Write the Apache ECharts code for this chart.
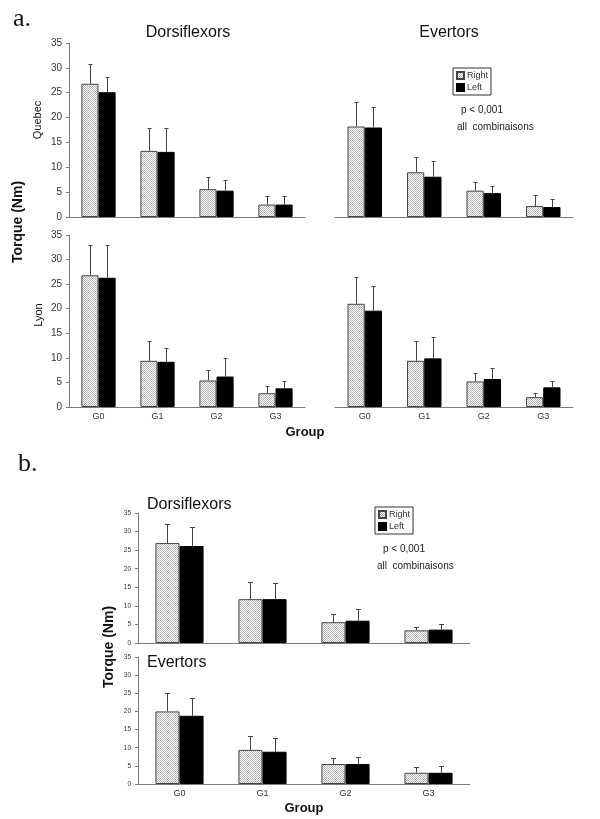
<!DOCTYPE html>
<html>
<head>
<meta charset="utf-8">
<script src="https://cdn.jsdelivr.net/npm/echarts@6/dist/echarts.min.js"></script>
<style>html,body{margin:0;padding:0;background:#fff}#c{width:600px;height:819px}</style>
</head>
<body>
<div id="c"></div>
<script>
const categories = ['G0', 'G1', 'G2', 'G3'];
const seriesNames = ['Right', 'Left'];

const quebecDorsiRight = [26.8, 13.3, 5.6, 2.5];
const quebecDorsiRightSD = [3.9, 4.7, 2.5, 1.7];
const quebecDorsiLeft = [25.1, 13.1, 5.3, 2.5];
const quebecDorsiLeftSD = [3.0, 4.9, 2.1, 1.7];

const quebecEverRight = [18.2, 9.0, 5.3, 2.2];
const quebecEverRightSD = [5.0, 3.1, 1.8, 2.2];
const quebecEverLeft = [18.0, 8.1, 4.8, 2.0];
const quebecEverLeftSD = [4.1, 3.2, 1.5, 1.6];

const lyonDorsiRight = [26.8, 9.4, 5.4, 2.8];
const lyonDorsiRightSD = [6.1, 4.0, 2.1, 1.5];
const lyonDorsiLeft = [26.3, 9.2, 6.2, 3.8];
const lyonDorsiLeftSD = [6.6, 2.8, 3.8, 1.5];

const lyonEverRight = [21.0, 9.4, 5.2, 2.0];
const lyonEverRightSD = [5.5, 4.0, 1.7, 0.9];
const lyonEverLeft = [19.6, 9.9, 5.7, 4.0];
const lyonEverLeftSD = [5.0, 4.3, 2.3, 1.3];

const pooledDorsiRight = [26.9, 11.8, 5.6, 3.4];
const pooledDorsiRightSD = [5.1, 4.6, 2.1, 0.9];
const pooledDorsiLeft = [26.1, 11.8, 6.0, 3.6];
const pooledDorsiLeftSD = [5.0, 4.3, 3.1, 1.5];

const pooledEverRight = [20.0, 9.4, 5.5, 3.1];
const pooledEverRightSD = [5.2, 3.7, 1.6, 1.6];
const pooledEverLeft = [18.8, 8.9, 5.5, 3.1];
const pooledEverLeftSD = [4.8, 3.9, 2.0, 1.8];

const yMin = 0, yMax = 35, yStep = 5;

// stipple pattern for "Right" bars
const pc = document.createElement('canvas');
pc.width = 2; pc.height = 2;
const pctx = pc.getContext('2d');
pctx.fillStyle = '#ffffff'; pctx.fillRect(0, 0, 2, 2);
pctx.fillStyle = '#b4b4b4'; pctx.fillRect(0, 0, 1, 1); pctx.fillRect(1, 1, 1, 1);
const stipple = { image: pc, repeat: 'repeat' };

const BAR_FRAC = 0.29;
const AXIS_COL = '#7a7a7a';
const TXT = '#333';

const panels = [
  { box: [69, 43, 236, 174], showY: true, showX: false, fy: 10, fx: 9, cap: 2, r: quebecDorsiRight, rs: quebecDorsiRightSD, l: quebecDorsiLeft, ls: quebecDorsiLeftSD },
  { box: [335, 43, 238, 174], showY: false, showX: false, fy: 10, fx: 9, cap: 2, r: quebecEverRight, rs: quebecEverRightSD, l: quebecEverLeft, ls: quebecEverLeftSD },
  { box: [69, 235, 236, 172], showY: true, showX: true, fy: 10, fx: 9, cap: 2, r: lyonDorsiRight, rs: lyonDorsiRightSD, l: lyonDorsiLeft, ls: lyonDorsiLeftSD },
  { box: [335, 235, 238, 172], showY: false, showX: true, fy: 10, fx: 9, cap: 2, r: lyonEverRight, rs: lyonEverRightSD, l: lyonEverLeft, ls: lyonEverLeftSD },
  { box: [138, 513, 332, 130], showY: true, showX: false, fy: 6.5, fx: 9, cap: 2.5, r: pooledDorsiRight, rs: pooledDorsiRightSD, l: pooledDorsiLeft, ls: pooledDorsiLeftSD },
  { box: [138, 657, 332, 127], showY: true, showX: true, fy: 6.5, fx: 9, cap: 2.5, r: pooledEverRight, rs: pooledEverRightSD, l: pooledEverLeft, ls: pooledEverLeftSD }
];

function errRenderer(sign, cap) {
  return function (params, api) {
    const i = api.value(0), m = api.value(1), sd = api.value(2);
    const base = api.coord([i, m]);
    const top = api.coord([i, m + sd]);
    const bw = api.size([1, 0])[0];
    const x = Math.round(base[0] + sign * bw * BAR_FRAC / 2) + 0.5;
    const yt = Math.round(top[1]) + 0.5;
    return {
      type: 'group',
      children: [
        { type: 'line', shape: { x1: x, y1: base[1], x2: x, y2: yt }, style: { stroke: '#444', lineWidth: 1 } },
        { type: 'line', shape: { x1: x - cap, y1: yt, x2: x + cap, y2: yt }, style: { stroke: '#444', lineWidth: 1 } }
      ]
    };
  };
}

const grid = [], xAxis = [], yAxis = [], series = [];
panels.forEach((p, g) => {
  grid.push({ left: p.box[0], top: p.box[1], width: p.box[2], height: p.box[3] });
  xAxis.push({
    type: 'category', gridIndex: g, data: categories,
    axisLine: { show: true, lineStyle: { color: AXIS_COL, width: 1 } },
    axisTick: { show: false },
    axisLabel: { show: p.showX, fontSize: p.fx, color: TXT, margin: 5, fontFamily: 'Liberation Sans' }
  });
  yAxis.push({
    type: 'value', gridIndex: g, min: yMin, max: yMax, interval: yStep,
    show: p.showY,
    axisLine: { show: true, lineStyle: { color: AXIS_COL, width: 1 } },
    axisTick: { show: true, length: 3, lineStyle: { color: AXIS_COL } },
    splitLine: { show: false },
    axisLabel: { fontSize: p.fy, color: TXT, margin: 7, fontFamily: 'Liberation Sans' }
  });
  series.push({
    name: 'Right', type: 'bar', xAxisIndex: g, yAxisIndex: g, data: p.r,
    barWidth: (BAR_FRAC * 100) + '%', barGap: '0%',
    itemStyle: { color: stipple, borderColor: '#444', borderWidth: 1 }
  });
  series.push({
    name: 'Left', type: 'bar', xAxisIndex: g, yAxisIndex: g, data: p.l,
    barWidth: (BAR_FRAC * 100) + '%', barGap: '0%',
    itemStyle: { color: '#000', borderColor: '#000', borderWidth: 1 }
  });
  series.push({
    name: 'errR' + g, type: 'custom', xAxisIndex: g, yAxisIndex: g, z: 5, clip: false,
    renderItem: errRenderer(-1, p.cap), encode: { x: 0, y: 1 },
    data: categories.map((c, i) => [i, p.r[i], p.rs[i]])
  });
  series.push({
    name: 'errL' + g, type: 'custom', xAxisIndex: g, yAxisIndex: g, z: 5, clip: false,
    renderItem: errRenderer(1, p.cap), encode: { x: 0, y: 1 },
    data: categories.map((c, i) => [i, p.l[i], p.ls[i]])
  });
});

function legendAt(left, top) {
  return {
    data: seriesNames.map(n => ({ name: n, icon: 'rect' })), left: left, top: top, orient: 'vertical',
    itemWidth: 7, itemHeight: 7, itemGap: 3, padding: [3, 3, 3, 3],
    borderColor: '#333', borderWidth: 1, borderRadius: 0,
    selectedMode: false,
    textStyle: { fontSize: 9, color: TXT, fontFamily: 'Liberation Sans', padding: [0, 0, 0, -2] }
  };
}

function txt(text, x, y, font, opts) {
  opts = opts || {};
  return {
    type: 'text', x: x, y: y, rotation: opts.rot || 0, z: 10,
    style: { text: text, x: 0, y: 0, font: font, fill: opts.fill || '#111', textAlign: opts.align || 'center', textVerticalAlign: 'middle' }
  };
}

const graphic = [
  txt('a.', 13, 19, '26px "Liberation Serif"', { align: 'left' }),
  txt('Dorsiflexors', 188, 33, '16px "Liberation Sans"'),
  txt('Evertors', 449, 33, '16px "Liberation Sans"'),
  txt('Quebec', 38, 120, '11px "Liberation Sans"', { rot: Math.PI / 2 }),
  txt('Lyon', 39, 315, '11px "Liberation Sans"', { rot: Math.PI / 2 }),
  txt('Torque (Nm)', 18, 222, 'bold 14px "Liberation Sans"', { rot: Math.PI / 2 }),
  txt('Group', 305, 432, 'bold 13px "Liberation Sans"'),
  txt('p < 0,001', 461, 110, '10px "Liberation Sans"', { align: 'left', fill: '#222' }),
  txt('all  combinaisons', 457, 127, '10px "Liberation Sans"', { align: 'left', fill: '#222' }),
  txt('b.', 18, 464, '26px "Liberation Serif"', { align: 'left' }),
  txt('Dorsiflexors', 147, 505, '16px "Liberation Sans"', { align: 'left' }),
  txt('Evertors', 147, 663, '16px "Liberation Sans"', { align: 'left' }),
  txt('Torque (Nm)', 109, 647, 'bold 14px "Liberation Sans"', { rot: Math.PI / 2 }),
  txt('Group', 304, 808, 'bold 13px "Liberation Sans"'),
  txt('p < 0,001', 383, 549, '10px "Liberation Sans"', { align: 'left', fill: '#222' }),
  txt('all  combinaisons', 377, 566, '10px "Liberation Sans"', { align: 'left', fill: '#222' })
];

const chart = echarts.init(document.getElementById('c'), null, { renderer: 'canvas' });
chart.setOption({
  animation: false,
  backgroundColor: '#fff',
  textStyle: { fontFamily: 'Liberation Sans' },
  legend: [legendAt(453, 68), legendAt(375, 507)],
  grid: grid,
  xAxis: xAxis,
  yAxis: yAxis,
  series: series,
  graphic: graphic
});
</script>
</body>
</html>
